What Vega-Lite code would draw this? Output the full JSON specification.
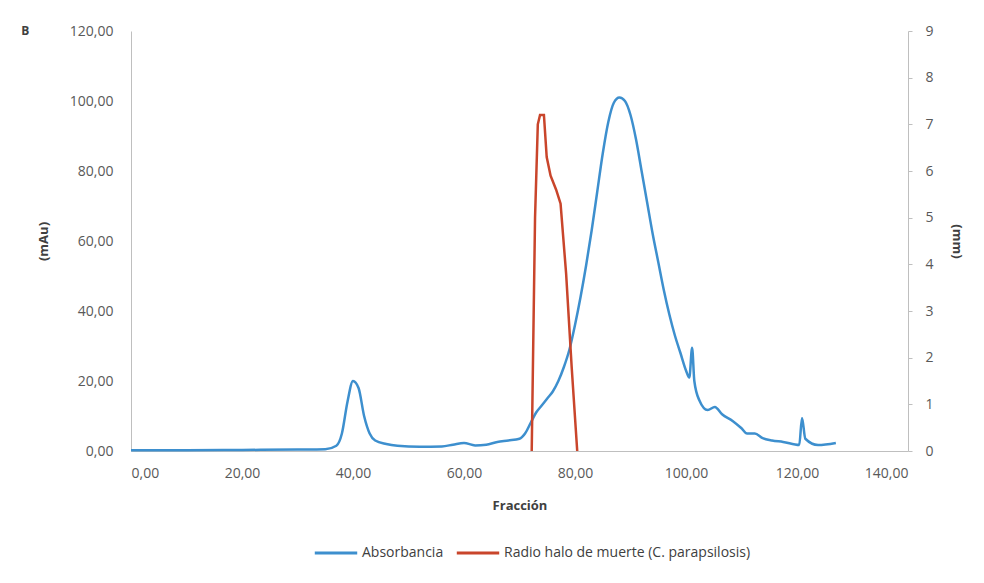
{
  "$schema": "https://vega.github.io/schema/vega-lite/v6.json",
  "width": 777,
  "height": 420,
  "padding": {"left": 21, "top": 24, "right": 5, "bottom": 5},
  "background": "white",
  "title": {"text": "B", "anchor": "start", "frame": "bounds", "fontSize": 12, "fontWeight": "bold", "color": "#404040", "font": "Open Sans", "offset": 0, "dy": 14, "dx": -16},
  "datasets": {
    "abs": [
      {"fraccion": 0, "mAu": 0.2}, {"fraccion": 10, "mAu": 0.2}, {"fraccion": 20, "mAu": 0.3}, {"fraccion": 30, "mAu": 0.4},
      {"fraccion": 35, "mAu": 0.5}, {"fraccion": 37, "mAu": 1.5}, {"fraccion": 38, "mAu": 5}, {"fraccion": 39, "mAu": 14},
      {"fraccion": 40, "mAu": 20}, {"fraccion": 41, "mAu": 18}, {"fraccion": 42, "mAu": 10}, {"fraccion": 43, "mAu": 5},
      {"fraccion": 44, "mAu": 3}, {"fraccion": 46, "mAu": 2}, {"fraccion": 48, "mAu": 1.5}, {"fraccion": 52, "mAu": 1.2},
      {"fraccion": 56, "mAu": 1.3}, {"fraccion": 58, "mAu": 1.8}, {"fraccion": 60, "mAu": 2.3}, {"fraccion": 62, "mAu": 1.6},
      {"fraccion": 64, "mAu": 1.8}, {"fraccion": 66, "mAu": 2.6}, {"fraccion": 68, "mAu": 3}, {"fraccion": 70, "mAu": 3.5},
      {"fraccion": 71, "mAu": 5}, {"fraccion": 72, "mAu": 8}, {"fraccion": 73, "mAu": 11}, {"fraccion": 74, "mAu": 13},
      {"fraccion": 75, "mAu": 15}, {"fraccion": 76, "mAu": 17}, {"fraccion": 77, "mAu": 20}, {"fraccion": 78, "mAu": 24},
      {"fraccion": 79, "mAu": 29}, {"fraccion": 80, "mAu": 36}, {"fraccion": 81, "mAu": 44}, {"fraccion": 82, "mAu": 53},
      {"fraccion": 83, "mAu": 63}, {"fraccion": 84, "mAu": 74}, {"fraccion": 85, "mAu": 85}, {"fraccion": 86, "mAu": 94},
      {"fraccion": 87, "mAu": 99.5}, {"fraccion": 88, "mAu": 101}, {"fraccion": 89, "mAu": 100}, {"fraccion": 90, "mAu": 96},
      {"fraccion": 91, "mAu": 89}, {"fraccion": 92, "mAu": 80}, {"fraccion": 93, "mAu": 71}, {"fraccion": 94, "mAu": 62},
      {"fraccion": 95, "mAu": 54}, {"fraccion": 96, "mAu": 46}, {"fraccion": 97, "mAu": 39}, {"fraccion": 98, "mAu": 33},
      {"fraccion": 99, "mAu": 28}, {"fraccion": 100, "mAu": 23}, {"fraccion": 100.6, "mAu": 21}, {"fraccion": 101.1, "mAu": 29.5},
      {"fraccion": 101.5, "mAu": 20}, {"fraccion": 102.4, "mAu": 14.5}, {"fraccion": 103.9, "mAu": 11.7}, {"fraccion": 105.2, "mAu": 12.6},
      {"fraccion": 106.5, "mAu": 10.5}, {"fraccion": 108.4, "mAu": 8.6}, {"fraccion": 110, "mAu": 6.5}, {"fraccion": 111, "mAu": 5},
      {"fraccion": 112.4, "mAu": 5}, {"fraccion": 113.8, "mAu": 3.7}, {"fraccion": 115.5, "mAu": 3}, {"fraccion": 117.5, "mAu": 2.6},
      {"fraccion": 120.4, "mAu": 1.7}, {"fraccion": 120.9, "mAu": 9.4}, {"fraccion": 121.5, "mAu": 3.5}, {"fraccion": 123.8, "mAu": 1.7},
      {"fraccion": 127, "mAu": 2.3}
    ],
    "radio": [
      {"fraccion": 72.2, "mm": 0}, {"fraccion": 72.8, "mm": 5}, {"fraccion": 73.3, "mm": 7.0}, {"fraccion": 73.7, "mm": 7.2},
      {"fraccion": 74.4, "mm": 7.2}, {"fraccion": 74.9, "mm": 6.3}, {"fraccion": 75.6, "mm": 5.9}, {"fraccion": 76.6, "mm": 5.6},
      {"fraccion": 77.4, "mm": 5.3}, {"fraccion": 78.4, "mm": 3.8}, {"fraccion": 79.4, "mm": 1.8}, {"fraccion": 80.4, "mm": 0}
    ]
  },
  "layer": [
    {
      "data": {"name": "abs"},
      "mark": {"type": "line", "strokeWidth": 2.5, "interpolate": "monotone"},
      "encoding": {
        "x": {"field": "fraccion", "type": "quantitative", "scale": {"domain": [0, 140], "nice": false},
              "axis": {"title": "Fracción", "values": [0, 20, 40, 60, 80, 100, 120, 140], "format": ".2f"}},
        "y": {"field": "mAu", "type": "quantitative", "scale": {"domain": [0, 120], "nice": false},
              "axis": {"title": "(mAu)", "values": [0, 20, 40, 60, 80, 100, 120], "format": ".2f", "orient": "left", "ticks": false, "labelPadding": 18, "titlePadding": 19}},
        "color": {"datum": "Absorbancia", "type": "nominal"}
      }
    },
    {
      "data": {"name": "radio"},
      "mark": {"type": "line", "strokeWidth": 2.5, "interpolate": "linear"},
      "encoding": {
        "x": {"field": "fraccion", "type": "quantitative"},
        "y": {"field": "mm", "type": "quantitative", "scale": {"domain": [0, 9], "nice": false},
              "axis": {"title": "(mm)", "values": [0, 1, 2, 3, 4, 5, 6, 7, 8, 9], "format": "d", "orient": "right", "ticks": true, "tickSize": 4, "labelPadding": 13, "titlePadding": 16}},
        "color": {"datum": "Radio halo de muerte (C. parapsilosis)", "type": "nominal"}
      }
    }
  ],
  "resolve": {"scale": {"y": "independent"}},
  "config": {
    "locale": {"number": {"decimal": ",", "thousands": ".", "grouping": [3], "currency": ["", " €"]}},
    "view": {"stroke": null},
    "font": "Open Sans",
    "axis": {"grid": false, "domainColor": "#bfbfbf", "tickColor": "#bfbfbf", "labelColor": "#595959", "labelFontSize": 14, "titleFontSize": 13, "titleColor": "#404040", "titleFontWeight": "bold", "labelFont": "Open Sans", "titleFont": "Open Sans"},
    "axisX": {"ticks": false, "labelPadding": 15, "titlePadding": 19},
    "range": {"category": ["#3d8fce", "#c9452b"]},
    "legend": {"orient": "none", "legendX": 182, "legendY": 499, "direction": "horizontal", "title": null, "symbolType": "stroke", "symbolSize": 1800, "symbolStrokeWidth": 3, "labelOffset": 3, "labelFontSize": 14, "labelColor": "#404040", "columnPadding": 6, "labelLimit": 0, "labelFont": "Open Sans"}
  }
}
